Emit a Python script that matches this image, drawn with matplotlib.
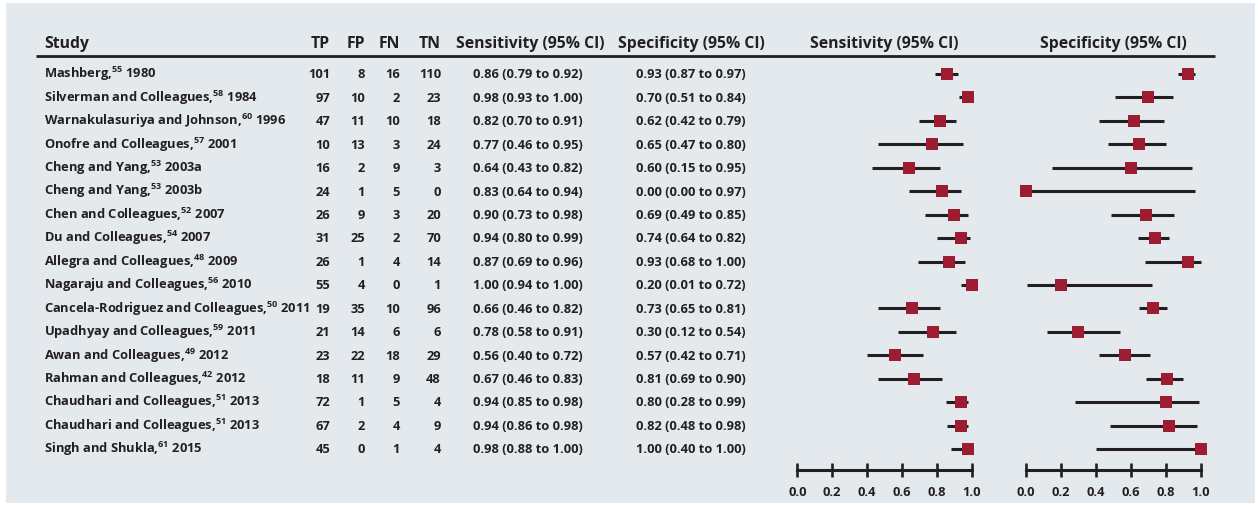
import matplotlib
matplotlib.use('Agg')
import matplotlib.pyplot as plt
from matplotlib.patches import Rectangle

# Style
FONT = 'Open Sans'
plt.rcParams['font.family'] = [FONT, 'DejaVu Sans']
plt.rcParams['font.weight'] = 'bold'
plt.rcParams['mathtext.fontset'] = 'custom'
plt.rcParams['mathtext.rm'] = FONT + ':bold'
plt.rcParams['mathtext.it'] = FONT + ':bold'
plt.rcParams['mathtext.bf'] = FONT + ':bold'
plt.rcParams['mathtext.default'] = 'rm'

BG = '#e4e9ed'
INK = '#231f20'
RED = '#9d1c32'

# Data
studies = ["Mashberg", "Silverman and Colleagues", "Warnakulasuriya and Johnson",
           "Onofre and Colleagues", "Cheng and Yang", "Cheng and Yang",
           "Chen and Colleagues", "Du and Colleagues", "Allegra and Colleagues",
           "Nagaraju and Colleagues", "Cancela-Rodriguez and Colleagues",
           "Upadhyay and Colleagues", "Awan and Colleagues", "Rahman and Colleagues",
           "Chaudhari and Colleagues", "Chaudhari and Colleagues", "Singh and Shukla"]
refs = [55, 58, 60, 57, 53, 53, 52, 54, 48, 56, 50, 59, 49, 42, 51, 51, 61]
years = ["1980", "1984", "1996", "2001", "2003a", "2003b", "2007", "2007", "2009",
         "2010", "2011", "2011", "2012", "2012", "2013", "2013", "2015"]

tp = [101, 97, 47, 10, 16, 24, 26, 31, 26, 55, 19, 21, 23, 18, 72, 67, 45]
fp = [8, 10, 11, 13, 2, 1, 9, 25, 1, 4, 35, 14, 22, 11, 1, 2, 0]
fn = [16, 2, 10, 3, 9, 5, 3, 2, 4, 0, 10, 6, 18, 9, 5, 4, 1]
tn = [110, 23, 18, 24, 3, 0, 20, 70, 14, 1, 96, 6, 29, 48, 4, 9, 4]

sens = [0.86, 0.98, 0.82, 0.77, 0.64, 0.83, 0.90, 0.94, 0.87, 1.00, 0.66, 0.78, 0.56, 0.67, 0.94, 0.94, 0.98]
sens_lo = [0.79, 0.93, 0.70, 0.46, 0.43, 0.64, 0.73, 0.80, 0.69, 0.94, 0.46, 0.58, 0.40, 0.46, 0.85, 0.86, 0.88]
sens_hi = [0.92, 1.00, 0.91, 0.95, 0.82, 0.94, 0.98, 0.99, 0.96, 1.00, 0.82, 0.91, 0.72, 0.83, 0.98, 0.98, 1.00]
spec = [0.93, 0.70, 0.62, 0.65, 0.60, 0.00, 0.69, 0.74, 0.93, 0.20, 0.73, 0.30, 0.57, 0.81, 0.80, 0.82, 1.00]
spec_lo = [0.87, 0.51, 0.42, 0.47, 0.15, 0.00, 0.49, 0.64, 0.68, 0.01, 0.65, 0.12, 0.42, 0.69, 0.28, 0.48, 0.40]
spec_hi = [0.97, 0.84, 0.79, 0.80, 0.95, 0.97, 0.85, 0.82, 1.00, 0.72, 0.81, 0.54, 0.71, 0.90, 0.99, 0.98, 1.00]

ticks = [0.0, 0.2, 0.4, 0.6, 0.8, 1.0]

W, H = 1258, 505
fig = plt.figure(figsize=(W / 100, H / 100), dpi=100)
fig.patch.set_facecolor('white')

# base axes in pixel units for the table part
ax = fig.add_axes([0, 0, 1, 1])
ax.set_xlim(0, W)
ax.set_ylim(H, 0)
ax.axis('off')
ax.add_patch(Rectangle((6, 3), 1249, 500, facecolor=BG, edgecolor='none'))

row0, step = 78.3, 23.44
rows = [row0 + i * step for i in range(len(studies))]
HFS = 11.3
FS = 9.3
txt = dict(color=INK, va='baseline', fontweight='bold', family=[FONT, 'DejaVu Sans'])

# header
hy = 48
ax.text(44, hy, "Study", fontsize=HFS, **txt)
for x, lab in zip([330, 365, 400, 441], ["TP", "FP", "FN", "TN"]):
    ax.text(x, hy, lab, fontsize=HFS, ha='right', **txt)
ax.text(456, hy, "Sensitivity (95% CI)", fontsize=HFS, **txt)
ax.text(618, hy, "Specificity (95% CI)", fontsize=HFS, **txt)
ax.text(884, hy, "Sensitivity (95% CI)", fontsize=HFS, ha='center', **txt)
ax.text(1113, hy, "Specificity (95% CI)", fontsize=HFS, ha='center', **txt)
ax.plot([36, 1215], [56, 56], color=INK, lw=2.0, solid_capstyle='butt')

for i, y in enumerate(rows):
    ax.text(44, y, f"{studies[i]},$^{{{refs[i]}}}$ {years[i]}", fontsize=FS, **txt)
    for x, v in zip([330, 365, 400, 441], [tp[i], fp[i], fn[i], tn[i]]):
        ax.text(x, y, str(v), fontsize=FS, ha='right', **txt)
    ax.text(473, y, f"{sens[i]:.2f} ({sens_lo[i]:.2f} to {sens_hi[i]:.2f})", fontsize=FS, **txt)
    ax.text(636, y, f"{spec[i]:.2f} ({spec_lo[i]:.2f} to {spec_hi[i]:.2f})", fontsize=FS, **txt)

# forest plots
mid = [r - 4.3 for r in rows]
pad = 0.06


def forest(x0, x1, est, lo, hi):
    span = x1 - x0
    left = (x0 - pad * span) / W
    fa = fig.add_axes([left, 0, (1 + 2 * pad) * span / W, 1])
    fa.set_xlim(-pad, 1 + pad)
    fa.set_ylim(H, 0)
    fa.patch.set_alpha(0)
    fa.hlines(mid, lo, hi, color=INK, lw=2.2)
    fa.plot(est, mid, 's', color=RED, markersize=8.4, markeredgewidth=0)
    for s in ['top', 'left', 'right']:
        fa.spines[s].set_visible(False)
    fa.spines['bottom'].set_position(('data', 469.5))
    fa.spines['bottom'].set_bounds(0, 1)
    fa.spines['bottom'].set_linewidth(2.2)
    fa.spines['bottom'].set_color(INK)
    fa.set_yticks([])
    fa.set_xticks(ticks)
    fa.set_xticklabels([f"{t:.1f}" for t in ticks], fontweight='bold', family=[FONT, 'DejaVu Sans'])
    fa.tick_params(axis='x', direction='inout', length=10, width=1.9, color=INK,
                   labelsize=FS, labelcolor=INK, pad=7)
    return fa


forest(797.3, 971.7, sens, sens_lo, sens_hi)
forest(1025.7, 1200.7, spec, spec_lo, spec_hi)

plt.savefig('out.png', dpi=100, facecolor='white')
